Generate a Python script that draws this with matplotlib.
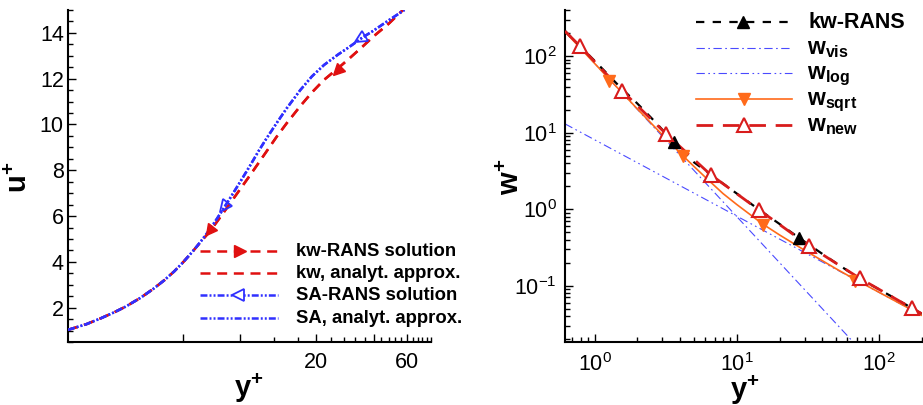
import matplotlib
matplotlib.use('Agg')
import matplotlib.pyplot as plt
from matplotlib.markers import MarkerStyle
from matplotlib.transforms import Affine2D
from matplotlib.lines import Line2D
from matplotlib.ticker import FixedLocator, FixedFormatter, NullFormatter, LogLocator

plt.rcParams['font.family'] = ['Liberation Sans', 'DejaVu Sans']
plt.rcParams['mathtext.fontset'] = 'custom'
plt.rcParams['mathtext.rm'] = 'Liberation Sans'
plt.rcParams['mathtext.bf'] = 'Liberation Sans:bold'
plt.rcParams['mathtext.it'] = 'Liberation Sans:italic'
plt.rcParams['lines.scale_dashes'] = False
plt.rcParams['axes.unicode_minus'] = False

# ---------------- data: left panel (u+ vs y+) ----------------
sa_yp = [1.0, 1.25, 1.5, 1.75, 2.0, 2.4, 2.8, 3.2, 3.6, 4.0, 4.5, 5.0, 5.5, 6.0, 6.5, 7.0, 8.0, 9.0,
         10.0, 11.0, 12.5, 14.0, 16.5, 19.0, 22.0, 26.0, 30.0, 35.0, 40.0, 48.0, 58.0]
sa_up = [1.03, 1.28, 1.55, 1.8, 2.04, 2.43, 2.82, 3.2, 3.58, 3.97, 4.45, 4.92, 5.38, 5.85, 6.3, 6.72,
         7.5, 8.2, 8.85, 9.4, 10.1, 10.7, 11.5, 12.1, 12.6, 13.05, 13.4, 13.8, 14.1, 14.55, 15.0]
kw_yp = [1.0, 1.25, 1.5, 1.75, 2.0, 2.4, 2.8, 3.2, 3.6, 4.0, 4.5, 5.0, 5.5, 6.0, 6.5, 7.0, 8.0, 9.0,
         10.0, 11.0, 12.5, 14.0, 16.5, 19.0, 22.0, 26.0, 30.0, 35.0, 40.0, 48.0, 57.0]
kw_up = [1.03, 1.28, 1.55, 1.8, 2.04, 2.43, 2.82, 3.2, 3.58, 3.97, 4.45, 4.9, 5.3, 5.72, 6.12, 6.5,
         7.18, 7.78, 8.33, 8.83, 9.5, 10.05, 10.8, 11.4, 11.95, 12.45, 12.9, 13.4, 13.85, 14.4, 15.0]
kw_mark_yp = [5.5, 25.6]
kw_mark_up = [5.36, 12.35]
sa_mark_yp = [6.56, 34.0]
sa_mark_up = [6.39, 13.72]
left_xticks_major = [4, 8, 20, 40, 60]
left_xticklabels = ['', '', '20', '', '60']
left_xticks_minor = [12, 16, 24, 28, 32, 36, 44, 48, 52, 56, 64, 68, 72, 76, 80]
left_legend = ['kw-RANS solution', 'kw, analyt. approx.', 'SA-RANS solution', 'SA, analyt. approx.']

# ---------------- data: right panel (w+ vs y+) ----------------
vis_yp = [0.62, 10.0, 64.0]
vis_w = [210.0, 0.80, 0.0195]
log_yp = [0.62, 10.0, 200.0]
log_w = [13.0, 0.81, 0.041]
sqrt_yp = [0.62, 1.0, 1.27, 2.0, 3.0, 4.17, 6.0, 8.0, 10.0, 15.2, 20.0, 30.0, 50.0, 68.3, 100.0, 200.0]
sqrt_w = [208, 80.4, 50.0, 20.4, 9.35, 5.0, 2.62, 1.6, 1.15, 0.64, 0.46, 0.29, 0.166, 0.12, 0.082, 0.041]
sqrt_mark_yp = [1.27, 4.17, 15.2, 68.3]
sqrt_mark_w = [47.0, 4.9, 0.62, 0.115]
new_yp = [0.62, 0.79, 1.0, 1.57, 2.2, 3.17, 4.5, 6.56, 10.0, 14.3, 20.0, 32.3, 50.0, 73.2, 110.0, 171.0, 200.0]
new_w = [212, 135, 85, 35, 18.9, 9.7, 5.35, 2.81, 1.59, 0.98, 0.63, 0.33, 0.196, 0.125, 0.081, 0.0506, 0.043]
kwr_yp = [0.62, 1.0, 1.5, 2.0, 2.7, 3.61, 5.0, 6.56, 10.0, 14.3, 20.0, 27.5, 40.0, 70.0, 120.0, 200.0]
kwr_w = [212, 87, 40, 24, 13.5, 7.5, 4.1, 2.82, 1.6, 0.99, 0.64, 0.42, 0.26, 0.13, 0.074, 0.043]
kwr_mark_yp = [3.61, 27.5]
kwr_mark_w = [7.5, 0.42]
new_mark_yp = [0.79, 1.57, 3.17, 6.56, 14.3, 32.3, 73.2, 171.0]
new_mark_w = [135, 35, 9.7, 2.81, 0.98, 0.33, 0.125, 0.0506]
right_legend = ['kw-RANS', r'$\mathbf{w}_{\mathbf{vis}}$', r'$\mathbf{w}_{\mathbf{log}}$',
                r'$\mathbf{w}_{\mathbf{sqrt}}$', r'$\mathbf{w}_{\mathbf{new}}$']

# ---------------- styles ----------------
RED = '#e01010'
BLUE = '#3030ff'
LBLUE = '#4a4aff'
ORANGE = '#ff6a1a'
DRED = '#d81c1c'
kw_dash = (0, (7.2, 4.8))
sa_dash = (0, (5.0, 1.5, 1.4, 1.5, 1.4, 1.5))
kwr_dash = (0, (6.0, 6.0))
vis_dash = (0, (6.0, 2.5, 1.2, 2.5))
log_dash = (0, (6.0, 2.5, 1.2, 2.5, 1.2, 2.5))
new_dash = (0, (12.0, 7.0))

W, H = 923, 405
fig = plt.figure(figsize=(W / 100, H / 100), dpi=100)


def fx(px):
    return px / W


def fy(py):
    return 1 - py / H


axL = fig.add_axes([fx(68), fy(342), fx(431) - fx(68), fy(10) - fy(342)])
axR = fig.add_axes([fx(565), fy(341.7), fx(921.7) - fx(565), fy(10) - fy(341.7)])

for ax in (axL, axR):
    ax.spines['top'].set_visible(False)
    ax.spines['right'].set_visible(False)
    ax.spines['left'].set_linewidth(1.5)
    ax.spines['bottom'].set_linewidth(1.5)
    ax.tick_params(which='both', direction='in', width=1.0, labelsize=15.5)
    ax.tick_params(which='major', length=6)
    ax.tick_params(which='minor', length=3.5)
    ax.patch.set_alpha(0)

# ---- left panel ----
axL.set_xscale('log')
axL.set_xlim(1, 80)
axL.set_ylim(0.5, 15)
axL.plot(kw_yp, kw_up, color=RED, lw=1.8, linestyle=kw_dash, zorder=3)
axL.plot(kw_yp, kw_up, color=RED, lw=1.8, linestyle=kw_dash, zorder=3)
axL.plot(sa_yp, sa_up, color=BLUE, lw=1.8, linestyle=sa_dash, zorder=4)
axL.plot(sa_yp, sa_up, color=BLUE, lw=1.8, linestyle=sa_dash, zorder=4)
for x, y, a in zip(kw_mark_yp, kw_mark_up, [233, 225]):
    axL.plot([x], [y], linestyle='none', marker=MarkerStyle('>', transform=Affine2D().rotate_deg(a)),
             ms=8, color=RED, zorder=5)
for x, y, a in zip(sa_mark_yp, sa_mark_up, [53, 34]):
    axL.plot([x], [y], linestyle='none', marker=MarkerStyle('<', transform=Affine2D().rotate_deg(a)),
             ms=8.5, mfc='none', mec=BLUE, mew=1.3, zorder=6)
axL.xaxis.set_major_locator(FixedLocator(left_xticks_major))
axL.xaxis.set_major_formatter(FixedFormatter(left_xticklabels))
axL.xaxis.set_minor_locator(FixedLocator(left_xticks_minor))
axL.xaxis.set_minor_formatter(NullFormatter())
axL.yaxis.set_major_locator(FixedLocator([2, 4, 6, 8, 10, 12, 14]))
axL.yaxis.set_minor_locator(FixedLocator([x * 0.5 for x in range(1, 31)]))
axL.tick_params(axis='x', which='major', pad=7)
axL.tick_params(axis='y', which='major', pad=3)

# ---- right panel ----
axR.set_xscale('log')
axR.set_yscale('log')
axR.set_xlim(0.62, 200)
axR.set_ylim(0.0185, 400)
axR.plot(vis_yp, vis_w, color=LBLUE, lw=0.8, linestyle=vis_dash, zorder=2)
axR.plot(log_yp, log_w, color=LBLUE, lw=0.8, linestyle=log_dash, zorder=2)
axR.plot(sqrt_yp, sqrt_w, color=ORANGE, lw=1.2, zorder=3)
axR.plot(sqrt_mark_yp, sqrt_mark_w, linestyle='none', marker='v', ms=9, color=ORANGE, zorder=6)
axR.plot(kwr_yp, kwr_w, color='black', lw=1.6, linestyle=kwr_dash, zorder=4)
axR.plot(kwr_mark_yp, kwr_mark_w, linestyle='none', marker='^', ms=9, color='black', zorder=6)
axR.plot(new_yp, new_w, color=DRED, lw=2.0, linestyle=new_dash, zorder=5)
axR.plot(new_mark_yp, new_mark_w, linestyle='none', marker='^', ms=9.5, mfc='white', mec=DRED,
         mew=1.5, zorder=7)
axR.xaxis.set_major_locator(LogLocator(base=10, numticks=10))
axR.xaxis.set_minor_locator(LogLocator(base=10, subs=range(2, 10), numticks=20))
axR.yaxis.set_major_locator(LogLocator(base=10, numticks=10))
axR.yaxis.set_minor_locator(LogLocator(base=10, subs=range(2, 10), numticks=20))
axR.xaxis.set_minor_formatter(NullFormatter())
axR.yaxis.set_minor_formatter(NullFormatter())
axR.tick_params(axis='x', which='major', pad=8)
axR.tick_params(axis='y', which='major', pad=6)

# ---- axis titles ----
fig.text(fx(19), fy(177), r'$\mathbf{u^{+}}$', fontsize=21, rotation=90, ha='center', va='center')
fig.text(fx(249), fy(388), r'$\mathbf{y^{+}}$', fontsize=21, ha='center', va='center')
fig.text(fx(511), fy(177), r'$\mathbf{w^{+}}$', fontsize=21, rotation=90, ha='center', va='center')
fig.text(fx(745), fy(390), r'$\mathbf{y^{+}}$', fontsize=21, ha='center', va='center')

# ---- left legend (manual) ----
rowsL = [251.0, 273.3, 295.0, 317.7]
styL = [dict(color=RED, lw=1.8, linestyle=kw_dash),
        dict(color=RED, lw=1.8, linestyle=kw_dash),
        dict(color=BLUE, lw=1.8, linestyle=sa_dash),
        dict(color=BLUE, lw=1.8, linestyle=sa_dash)]
for lab, yy, st in zip(left_legend, rowsL, styL):
    fig.add_artist(Line2D([fx(200), fx(278)], [fy(yy), fy(yy)], **st))
    fig.text(fx(296), fy(yy + 5), lab, fontsize=13.3, fontweight='bold', ha='left', va='baseline')
fig.add_artist(Line2D([fx(240)], [fy(rowsL[0])], linestyle='none', marker='>', ms=8, color=RED))
fig.add_artist(Line2D([fx(238)], [fy(rowsL[2])], linestyle='none', marker='<', ms=8.5, mfc='white',
                      mec=BLUE, mew=1.3))

# ---- right legend (manual) ----
rowsR = [21.7, 47.7, 73.3, 99.0, 125.0]
styR = [dict(color='black', lw=1.6, linestyle=kwr_dash),
        dict(color=LBLUE, lw=0.8, linestyle=vis_dash),
        dict(color=LBLUE, lw=0.8, linestyle=log_dash),
        dict(color=ORANGE, lw=1.2),
        dict(color=DRED, lw=2.0, linestyle=new_dash)]
for i, (lab, yy, st) in enumerate(zip(right_legend, rowsR, styR)):
    fig.add_artist(Line2D([fx(696), fx(792)], [fy(yy), fy(yy)], **st))
    if i == 0:
        fig.text(fx(808), fy(yy + 6.8), lab, fontsize=15.5, fontweight='bold', ha='left', va='baseline')
    else:
        fig.text(fx(807), fy(yy + 6.0), lab, fontsize=16.5, fontweight='bold', ha='left', va='baseline')
fig.add_artist(Line2D([fx(743)], [fy(rowsR[0])], linestyle='none', marker='^', ms=9, color='black'))
fig.add_artist(Line2D([fx(744)], [fy(rowsR[3])], linestyle='none', marker='v', ms=9, color=ORANGE))
fig.add_artist(Line2D([fx(744)], [fy(rowsR[4])], linestyle='none', marker='^', ms=9.5, mfc='white',
                      mec=DRED, mew=1.5))

fig.savefig('out.png', dpi=100)
